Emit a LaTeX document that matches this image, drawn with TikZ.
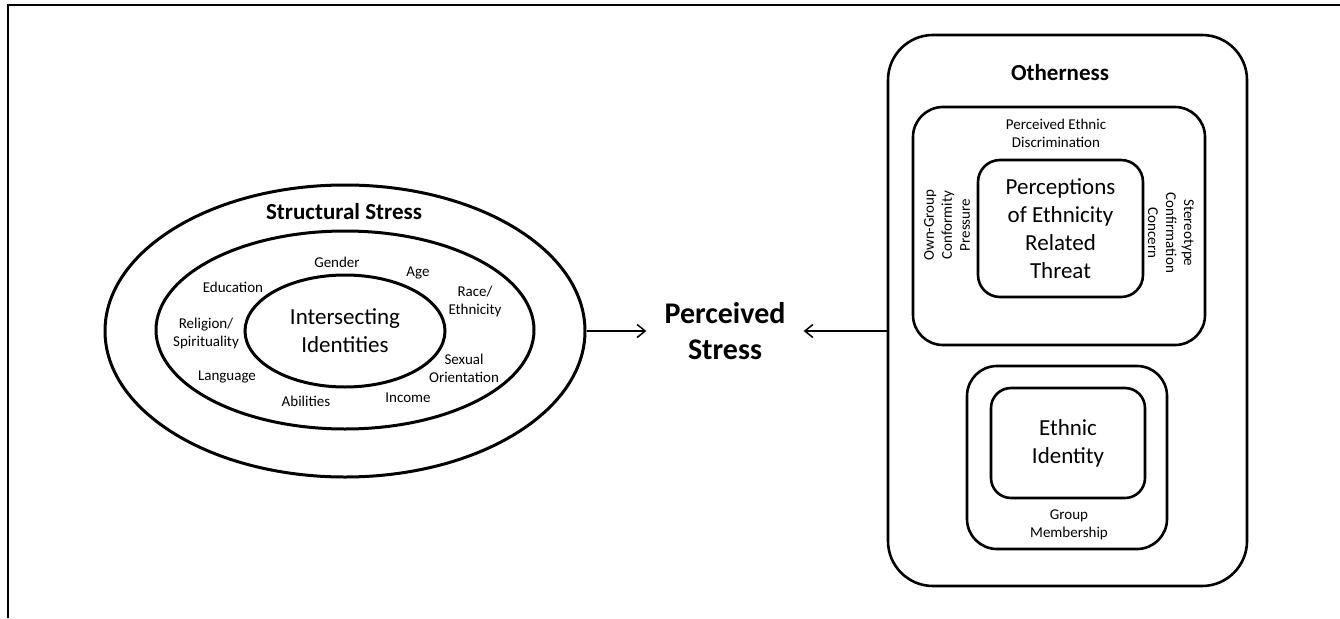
\documentclass[tikz,border=0pt]{standalone}
\usepackage{fontspec}
\setmainfont{Carlito}
\usepackage{tikz}
\usetikzlibrary{positioning,arrows.meta,shapes.geometric}

\begin{document}
\begin{tikzpicture}[x=1pt, y=-1pt,
  ring/.style={draw, ellipse, line width=3pt, inner sep=0pt},
  box/.style={draw, rectangle, line width=2.6pt, inner sep=0pt},
  lbl/.style={font=\fontsize{15}{18}\selectfont, align=center, inner sep=0pt},
  big/.style={font=\fontsize{23}{28}\selectfont, align=center, inner sep=0pt},
  head/.style={font=\fontsize{23}{28}\selectfont\bfseries, align=center, inner sep=0pt},
  arr/.style={-{Straight Barb[length=8pt,width=13pt]}, line width=1.5pt}]
\useasboundingbox (0,0) rectangle (1340,618);
\draw[line width=2pt] (8,618) -- (8,5) -- (1340,5);
% structural stress
\node[ring, minimum width=480pt, minimum height=292pt] (struct) at (345,331) {};
\node[ring, minimum width=378pt, minimum height=198pt] (ident) at (345,330) {};
\node[ring, minimum width=200pt, minimum height=112pt, big] (core) at (345,331) {Intersecting\\Identities};
\node[head] (sstitle) at (344,212) {Structural Stress};
\node[lbl] (gender) at (337,262) {Gender};
\node[lbl] (age) at (418,273) {Age};
\node[lbl] (edu) at (233,287) {Education};
\node[lbl] (race) at (475,301) {Race/\\Ethnicity};
\node[lbl] (relig) at (206,333) {Religion/\\Spirituality};
\node[lbl] (sexor) at (464,368) {Sexual\\Orientation};
\node[lbl] (lang) at (227,377) {Language};
\node[lbl] (abil) at (306,401) {Abilities};
\node[lbl] (income) at (408,398) {Income};
% perceived stress
\node[font=\fontsize{30}{36}\selectfont\bfseries, align=center, inner xsep=18pt, inner ysep=0pt] (stress) at (725,331) {Perceived\\Stress};
% otherness
\node[box, rounded corners=45pt, minimum width=359pt, minimum height=551pt] (other) at (1067.5,310.5) {};
\node[head] (ottitle) at (1060,73) {Otherness};
\node[box, rounded corners=30pt, minimum width=292pt, minimum height=238pt] (disc) at (1059,226) {};
\node[lbl] (disctxt) at (1056,133) {Perceived Ethnic\\Discrimination};
\node[box, rounded corners=22pt, minimum width=165pt, minimum height=137pt, big] (threat) at (1060.5,228.5) {Perceptions\\of Ethnicity\\Related\\Threat};
\node[lbl, rotate=90] (conform) at (947,225) {Own-Group\\Conformity\\Pressure};
\node[lbl, rotate=-90] (stereo) at (1171,233) {Stereotype\\Confirmation\\Concern};
\node[box, rounded corners=30pt, minimum width=200pt, minimum height=183pt] (member) at (1067,457.5) {};
\node[box, rounded corners=20pt, minimum width=154pt, minimum height=110pt, big] (ethid) at (1068,443) {Ethnic\\Identity};
\node[lbl] (membtxt) at (1069,525) {Group\\Membership};
\draw[arr] (struct.east) -- (stress);
\draw[arr] (other.west |- stress) -- (stress);
\end{tikzpicture}
\end{document}
